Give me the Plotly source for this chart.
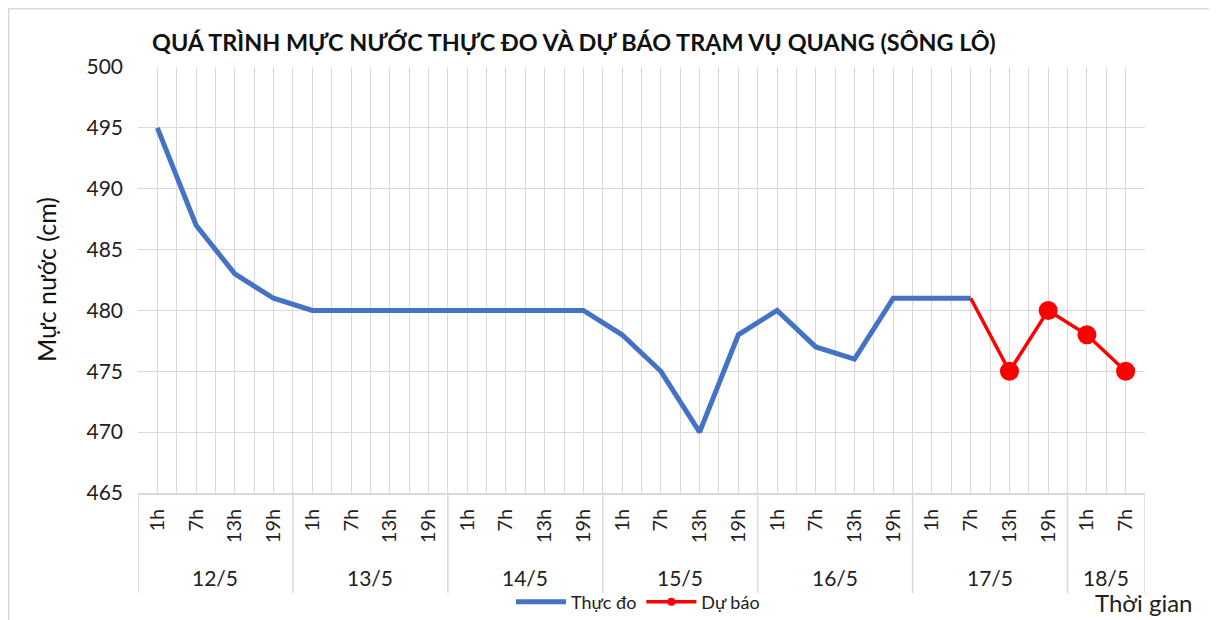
import plotly.graph_objects as go

# ---- data ----
dates = ['12/5', '13/5', '14/5', '15/5', '16/5', '17/5', '18/5']
hours_per_date = [4, 4, 4, 4, 4, 4, 2]
hour_labels = ['1h', '7h', '13h', '19h']
observed = [495, 487, 483, 481, 480, 480, 480, 480, 480, 480, 480, 480,
            478, 475, 470, 478, 480, 477, 476, 481, 481, 481,
            None, None, None, None]
forecast = [None] * 21 + [481, 475, 480, 478, 475]
y_ticks = [465, 470, 475, 480, 485, 490, 495, 500]

hours = []
for n in hours_per_date:
    hours += hour_labels[:n]
xs = list(range(len(hours)))

FONT = "Lato"
GRID = "#d9d9d9"
W, H = 1209, 612
ML, MR, MT, MB = 130, 72, 59, 127
PW, PH = W - ML - MR, H - MT - MB

fig = go.Figure()
fig.add_trace(go.Scatter(x=xs, y=observed, mode='lines', name='Thực đo',
                         line=dict(color='#4472C4', width=5)))
fc_sizes = [0 if (i == 0 or forecast[i - 1] is None) else 19 for i in range(len(forecast))]
fig.add_trace(go.Scatter(x=xs, y=forecast, mode='lines+markers', name='Dự báo', showlegend=False,
                         line=dict(color='#FF0000', width=3.5),
                         marker=dict(color='#FF0000', size=fc_sizes, opacity=1, line=dict(width=0))))
# legend entry for forecast (line with small marker)
fig.add_trace(go.Scatter(x=[None], y=[None], mode='lines+markers', name='Dự báo',
                         line=dict(color='#FF0000', width=3.5),
                         marker=dict(color='#FF0000', size=8, opacity=1, line=dict(width=0))))

# group dividers and date labels
bounds = [-0.5]
for n in hours_per_date:
    bounds.append(bounds[-1] + n)
shapes = []
for b in bounds:
    shapes.append(dict(type='line', xref='x', yref='paper', x0=b, x1=b, y0=0, y1=-0.2347,
                       line=dict(color=GRID, width=1.5)))
# outer chart border
shapes.append(dict(type='rect', xref='paper', yref='paper',
                   x0=(0.75 - ML) / PW, x1=(1202 - ML) / PW,
                   y0=-0.35, y1=(PH + MT - 0.75) / PH, line=dict(color=GRID, width=1.5)))
annotations = []
for i, d in enumerate(dates):
    annotations.append(dict(x=(bounds[i] + bounds[i + 1]) / 2, y=-0.1995, xref='x', yref='paper',
                            text=d, showarrow=False, font=dict(family=FONT, size=21, color='#222'),
                            xanchor='center', yanchor='middle'))
annotations.append(dict(x=(1143.5 - 138) / PW, y=-0.256, xref='paper', yref='paper', text='Thời gian',
                        showarrow=False, font=dict(family=FONT, size=24, color='#222'),
                        xanchor='center', yanchor='middle'))
annotations.append(dict(x=(46 - 138) / PW, y=0.5, xref='paper', yref='paper', text='Mực nước (cm)',
                        textangle=-90, showarrow=False, font=dict(family=FONT, size=25, color='#111'),
                        xanchor='center', yanchor='middle'))

fig.update_layout(
    width=W, height=H,
    margin=dict(l=ML, r=MR, t=MT, b=MB, autoexpand=False),
    paper_bgcolor='white', plot_bgcolor='white',
    title=dict(text='<b>QUÁ TRÌNH MỰC NƯỚC THỰC ĐO VÀ DỰ BÁO TRẠM VỤ QUANG (SÔNG LÔ)</b>',
               xref='container', yref='container', x=(152 - 8) / W, xanchor='left',
               y=1 - (43 - 8) / H, yanchor='middle',
               font=dict(family=FONT, size=23.4, color='#111')),
    showlegend=True,
    legend=dict(orientation='h', x=(638 - 138) / PW, xanchor='center', y=-0.256, yanchor='middle',
                font=dict(family=FONT, size=18, color='#222'), bgcolor='rgba(0,0,0,0)',
                itemwidth=50),
    shapes=shapes, annotations=annotations,
    xaxis=dict(range=[-0.5, len(xs) - 0.5], tickmode='array', tickvals=xs, ticktext=hours,
               tickangle=-90, showgrid=True, gridcolor=GRID, gridwidth=1,
               tickfont=dict(family=FONT, size=20, color='#222'),
               ticks='', zeroline=False, showline=True, linecolor=GRID, linewidth=1.5,
               ticklabelstandoff=6,
               minor=dict(tickmode='array', tickvals=[x - 0.5 for x in xs] + [len(xs) - 0.5],
                          showgrid=True, gridcolor=GRID, gridwidth=1, ticks='')),
    yaxis=dict(range=[465, 500], tickmode='array', tickvals=y_ticks, showgrid=True,
               gridcolor=GRID, gridwidth=1.2, zeroline=False, showline=False, ticks='',
               tickfont=dict(family=FONT, size=21, color='#222'), ticklabelstandoff=14),
)

fig.write_html("out.html")
